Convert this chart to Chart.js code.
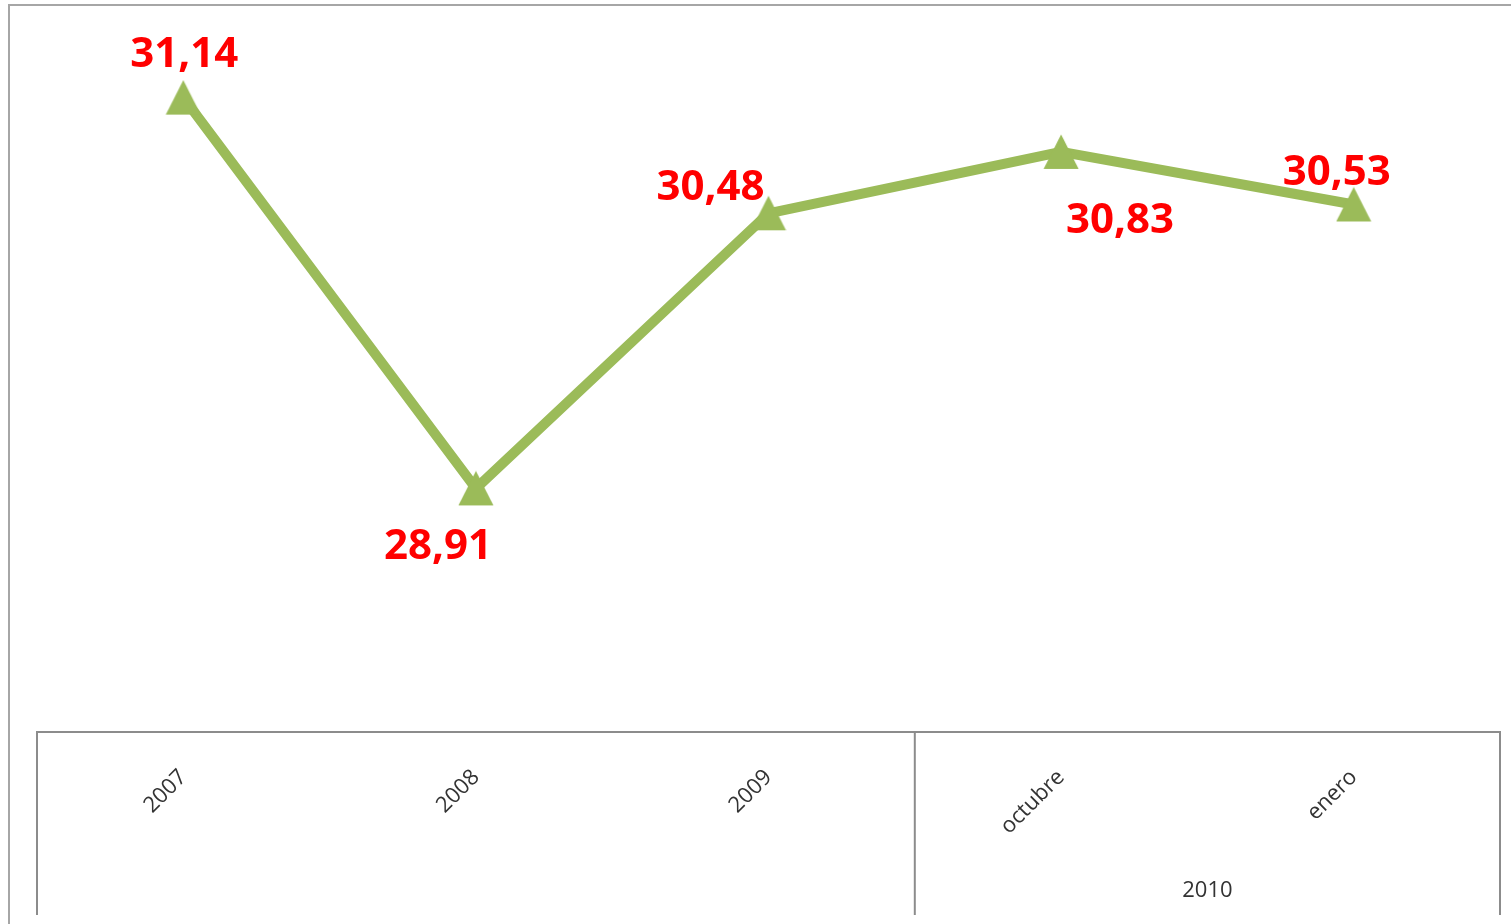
<!DOCTYPE html>
<html>
<head>
<meta charset="utf-8">
<title>Gráfico</title>
<script src="https://cdn.jsdelivr.net/npm/chart.js@4.4.1/dist/chart.umd.min.js"></script>
<style>
    html, body { margin: 0; padding: 0; background: #fff; overflow: hidden; }
    #wrap { position: relative; width: 1511px; height: 924px; }
</style>
</head>
<body>
<div id="wrap"><canvas id="myChart"></canvas></div>
<script>
// datos del gráfico
const categories = ['2007', '2008', '2009', 'octubre', 'enero'];
const groupLabels = ['', '', '', '2010', '2010'];
const values = [31.14, 28.91, 30.48, 30.83, 30.53];
const valueLabels = ['31,14', '28,91', '30,48', '30,83', '30,53'];

const green = '#9bbb59';

// marcador triangular (centrado como en Excel)
function makeTriangle() {
    const c = document.createElement('canvas');
    c.width = 36;
    c.height = 36;
    const g = c.getContext('2d');
    g.fillStyle = green;
    g.beginPath();
    g.moveTo(18, 0.5);
    g.lineTo(35.5, 35);
    g.lineTo(0.5, 35);
    g.closePath();
    g.fill();
    return c;
}

// etiquetas de datos colocadas a mano (desplazamientos en px)
const labelPlugin = {
    id: 'valueLabels',
    afterDatasetsDraw(chart, args, opts) {
        const ctx = chart.ctx;
        const meta = chart.getDatasetMeta(0);
        ctx.save();
        ctx.font = 'bold 42px "Open Sans"';
        ctx.fillStyle = '#ff0000';
        ctx.textAlign = 'center';
        ctx.textBaseline = 'middle';
        meta.data.forEach((pt, i) => {
            const off = opts.offsets[i];
            ctx.fillText(valueLabels[i], pt.x + off[0], pt.y + off[1]);
        });
        ctx.restore();
    }
};

// marco exterior + tabla del eje de categorías con grupo "2010"
const framePlugin = {
    id: 'frame',
    afterDraw(chart) {
        const ctx = chart.ctx;
        const x = chart.scales.x;
        const step = x.getPixelForValue(1) - x.getPixelForValue(0);
        const top = chart.chartArea.bottom;
        const bottom = 915;
        const left = x.getPixelForValue(0) - step / 2;
        const right = x.getPixelForValue(categories.length - 1) + step / 2;

        ctx.save();
        // marco del gráfico
        ctx.strokeStyle = '#a6a6a6';
        ctx.lineWidth = 2;
        ctx.beginPath();
        ctx.moveTo(9, 924);
        ctx.lineTo(9, 5);
        ctx.lineTo(1511, 5);
        ctx.stroke();

        // caja del eje
        ctx.strokeStyle = '#8c8c8c';
        ctx.beginPath();
        ctx.moveTo(left, bottom);
        ctx.lineTo(left, top);
        ctx.lineTo(right, top);
        ctx.lineTo(right, bottom);
        ctx.stroke();

        // separadores de grupo y etiquetas de grupo
        ctx.font = '22px "Open Sans"';
        ctx.fillStyle = '#333333';
        ctx.textAlign = 'center';
        ctx.textBaseline = 'middle';
        let start = 0;
        for (let i = 1; i <= groupLabels.length; i++) {
            if (i === groupLabels.length || groupLabels[i] !== groupLabels[start]) {
                const x0 = x.getPixelForValue(start) - step / 2;
                const x1 = x.getPixelForValue(i - 1) + step / 2;
                if (start > 0) {
                    ctx.beginPath();
                    ctx.moveTo(x0, top);
                    ctx.lineTo(x0, bottom);
                    ctx.stroke();
                }
                if (groupLabels[start]) {
                    ctx.fillText(groupLabels[start], (x0 + x1) / 2, 891);
                }
                start = i;
            }
        }
        ctx.restore();
    }
};

const ctx = document.getElementById('myChart').getContext('2d');
const myChart = new Chart(ctx, {
    type: 'line',
    data: {
        labels: categories,
        datasets: [{
            data: values,
            borderColor: green,
            borderWidth: 10,
            fill: false,
            tension: 0,
            pointStyle: makeTriangle(),
            pointRadius: 18,
            pointBackgroundColor: green,
            pointBorderColor: green
        }]
    },
    options: {
        responsive: true,
        maintainAspectRatio: false,
        animation: false,
        events: [],
        layout: {
            autoPadding: false,
            padding: { left: 37, right: 11, top: 31, bottom: 0 }
        },
        plugins: {
            legend: { display: false },
            tooltip: { enabled: false },
            valueLabels: {
                offsets: [[1, -43], [-38, 59], [-58, -25], [59, 69], [-17, -31]]
            }
        },
        scales: {
            x: {
                offset: true,
                grid: { display: false, drawTicks: false },
                border: { display: false },
                ticks: {
                    autoSkip: false,
                    minRotation: 45,
                    maxRotation: 45,
                    padding: 41,
                    color: '#333333',
                    font: { family: 'Open Sans', size: 22, lineHeight: 0.1 }
                },
                afterFit(scale) {
                    scale.height = 192;
                }
            },
            y: {
                display: false,
                min: 27.52,
                max: 31.52
            }
        }
    },
    plugins: [labelPlugin, framePlugin]
});
</script>
</body>
</html>
